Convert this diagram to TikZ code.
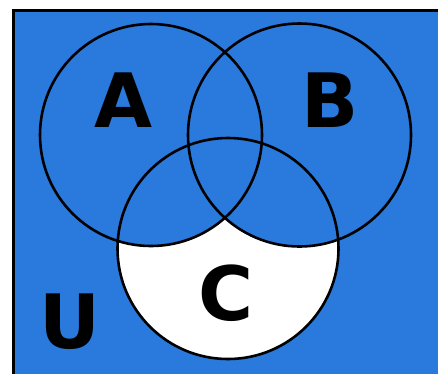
\documentclass[tikz,border=0pt]{standalone}
\usepackage{fontspec}
\setmainfont{DejaVu Sans}
\definecolor{vblue}{RGB}{42,121,220}
\begin{document}
\begin{tikzpicture}[x=1pt,y=-1pt,
  ring/.style={draw=black,line width=2.6pt},
  lbl/.style={inner sep=0pt,font=\fontsize{75}{75}\selectfont\bfseries}]
\useasboundingbox (0,0) rectangle (438,373);
\begin{scope}
\clip (0,0) rectangle (438,373);
\fill[vblue,draw=black,line width=3pt] (13.5,10.5) rectangle (460,400);
\end{scope}
\coordinate (ca) at (151,135);
\coordinate (cb) at (299.5,135);
\coordinate (cc) at (228,248.5);
\fill[white] (cc) circle (110.5);
\begin{scope}
\clip (cc) circle (110.5);
\fill[vblue] (ca) circle (111);
\fill[vblue] (cb) circle (111.5);
\end{scope}
\draw[ring] (ca) circle (111);
\draw[ring] (cb) circle (111.5);
\draw[ring] (cc) circle (110.5);
\node[lbl] (la) at (124,100.5) {A};
\node[lbl] (lb) at (330,100.5) {B};
\node[lbl] (lc) at (226,293.5) {C};
\node[lbl] (lu) at (70,321.5) {U};
\end{tikzpicture}
\end{document}
